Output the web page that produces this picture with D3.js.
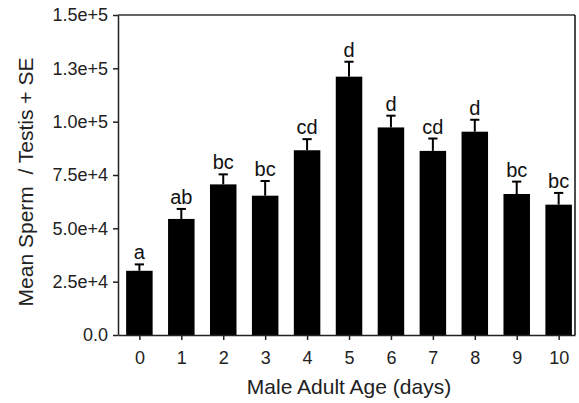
<!DOCTYPE html>
<html lang="en">
<head>
<meta charset="UTF-8">
<title>Mean Sperm per Testis by Male Adult Age</title>
<script src="https://d3js.org/d3.v7.min.js"></script>
<style>
 body {
   margin: 0;
   background: #fff;
   font-family: "Liberation Sans", Arial, Helvetica, sans-serif;
 }
 .axis text {
   font-size: 18px;
   fill: #222;
 }
 .axis path, .axis line {
   stroke: #222;
   stroke-width: 1.5px;
 }
 .title {
   font-size: 21px;
   fill: #222;
 }
 .letter {
   font-size: 20px;
   fill: #111;
 }
</style>
</head>
<body>
<div id="chart"></div>
<script>
// Values
const ages = [0, 1, 2, 3, 4, 5, 6, 7, 8, 9, 10];
const means = [30100, 54400, 70600, 65300, 86600, 121100, 97300, 86300, 95300, 66100, 61100];
const errors = [3000, 4700, 4700, 6900, 5200, 7000, 5500, 5800, 5600, 5800, 5500];
const letters = ["a", "ab", "bc", "bc", "cd", "d", "d", "cd", "d", "bc", "bc"];
const yTicks = [0, 25000, 50000, 75000, 100000, 125000, 150000];

const width = 579;
const height = 403;

const svg = d3.select('#chart').append('svg')
  .attr('width', width)
  .attr('height', height);

const x = d3.scaleLinear().domain([-0.51, 10.39]).range([118, 575]);
const y = d3.scaleLinear().domain([0, 150000]).range([335, 15]);

const halfBar = 0.316;
const halfCap = 0.11;

// Frame: top in grey, right side in black
svg.append('line')
  .attr('x1', x.range()[0]).attr('x2', x.range()[1])
  .attr('y1', y(150000)).attr('y2', y(150000))
  .attr('stroke', '#666').attr('stroke-width', 2);
svg.append('line')
  .attr('x1', x.range()[1]).attr('x2', x.range()[1])
  .attr('y1', y(150000)).attr('y2', y(0))
  .attr('stroke', '#111').attr('stroke-width', 1.5);

// Bars
svg.selectAll('.bar')
  .data(ages)
  .enter()
  .append('rect')
  .attr('class', 'bar')
  .attr('x', (d, i) => x(d - halfBar))
  .attr('width', d => x(d + halfBar) - x(d - halfBar))
  .attr('y', (d, i) => y(means[i]))
  .attr('height', (d, i) => y(0) - y(means[i]))
  .attr('fill', '#000');

// Error bars (upper only)
svg.selectAll('.err')
  .data(ages)
  .enter()
  .append('line')
  .attr('class', 'err')
  .attr('x1', d => x(d)).attr('x2', d => x(d))
  .attr('y1', (d, i) => y(means[i]))
  .attr('y2', (d, i) => y(means[i] + errors[i]))
  .attr('stroke', '#000').attr('stroke-width', 2);

svg.selectAll('.cap')
  .data(ages)
  .enter()
  .append('line')
  .attr('class', 'cap')
  .attr('x1', d => x(d - halfCap)).attr('x2', d => x(d + halfCap))
  .attr('y1', (d, i) => y(means[i] + errors[i]))
  .attr('y2', (d, i) => y(means[i] + errors[i]))
  .attr('stroke', '#000').attr('stroke-width', 2);

// Significance letters
svg.selectAll('.letter')
  .data(ages)
  .enter()
  .append('text')
  .attr('class', 'letter')
  .attr('x', d => x(d))
  .attr('y', (d, i) => y(means[i] + errors[i]) - 5)
  .attr('text-anchor', 'middle')
  .text((d, i) => letters[i]);

// Axes
const fmt = d3.format('.1e');
svg.append('g')
  .attr('class', 'axis')
  .attr('transform', `translate(${x.range()[0]},0)`)
  .call(d3.axisLeft(y)
    .tickValues(yTicks)
    .tickSize(5)
    .tickSizeOuter(0)
    .tickPadding(5)
    .tickFormat(v => v === 0 ? '0.0' : fmt(v)));

svg.append('g')
  .attr('class', 'axis')
  .attr('transform', `translate(0,${y(0)})`)
  .call(d3.axisBottom(x)
    .tickValues(ages)
    .tickSize(5)
    .tickSizeOuter(0)
    .tickPadding(11)
    .tickFormat(d3.format('d')));

// Axis titles
svg.append('text')
  .attr('class', 'title')
  .attr('x', 349)
  .attr('y', 394)
  .attr('text-anchor', 'middle')
  .text('Male Adult Age (days)');

svg.append('text')
  .attr('class', 'title')
  .attr('transform', 'translate(33,182) rotate(-90)')
  .attr('text-anchor', 'middle')
  .style('white-space', 'pre')
  .text('Mean Sperm  / Testis + SE');
</script>
</body>
</html>
